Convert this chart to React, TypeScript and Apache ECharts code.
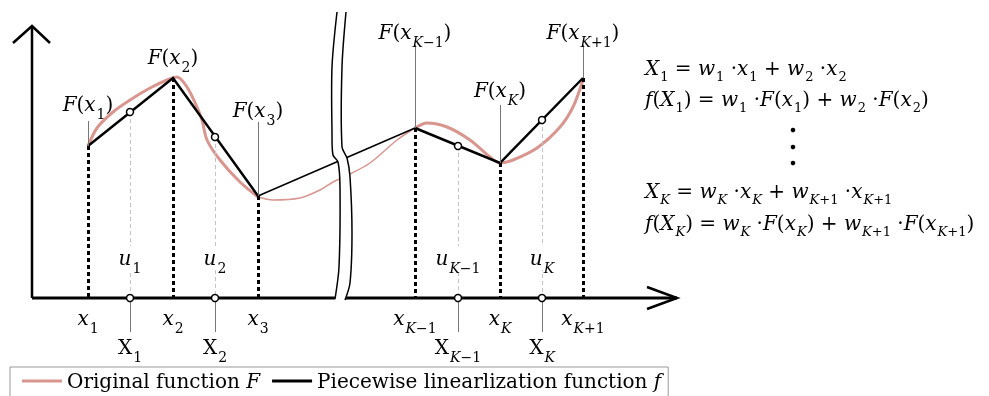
import React, { useEffect, useRef } from 'react';
import * as echarts from 'echarts';

// ---- data (units: origin at the axes' intersection, y upward) ----
const knotX = [56, 141, 226, 383, 468, 551];
const knotF = [152, 220, 102, 170, 135, 220];
const knotSub = ['1', '2', '3', 'K−1', 'K', 'K+1'];
const midX = [98, 183, 426, 510];
const midF = [186, 161, 152, 178];
const midSub = ['1', '2', 'K−1', 'K'];
const curveLeft = [[56, 152], [65, 170], [81, 186], [98, 198], [118, 210], [135, 218], [145, 221], [155, 211], [165, 191], [170, 178], [175, 158], [188, 138], [208, 116], [226, 101]];
const curveMid = [[226, 101], [241, 98], [268, 100], [288, 108], [301, 116], [316, 123], [338, 135], [365, 158], [383, 170]];
const curveRight = [[383, 170], [395, 175], [415, 171], [438, 158], [458, 141], [468, 135], [481, 138], [505, 150], [528, 171], [541, 191], [551, 218]];
const fLabelY = [194, 241, 188, 266, 208, 266];
const fConnTop = [177, null, 176, 253, 193, 253];
const uLabelY = 40;
const xLabelY = -20;
const bigXLabelY = -49;
const bigXConnBottom = -34;
const yAxisLine = [[0, 0], [0, 272]];
const yArrow = [[-19, 255], [0, 272], [18, 255]];
const xAxisLine = [[0, 0], [645, 0]];
const xArrow = [[615, 11], [645, 0], [615, -11]];
const breakLeft = [[305, 286], [300, 231], [300, 165], [301, 143], [306, 136], [308, 111], [307, 31], [303, -1]];
const breakRight = [[314, 286], [310, 231], [310, 151], [315, 140], [318, 121], [320, 65], [318, 15], [313, -2]];

const NAME_F = 'Original function F';
const NAME_f = 'Piecewise linearlization function f';
const PINK = '#d9968f';
const FONT = 'DejaVu Serif';
const MAIN = 20;
const SUB = 14;
const SUBPAD = 20;
const LH = 24;

const makeRich = (sub: number, pad: number) => ({
  i: { fontFamily: FONT, fontSize: MAIN, fontStyle: 'italic', color: '#000', lineHeight: LH },
  r: { fontFamily: FONT, fontSize: MAIN, color: '#000', lineHeight: LH },
  s1: { fontFamily: FONT, fontSize: sub, color: '#000', padding: [pad, 0, 0, 1], lineHeight: LH },
  s: { fontFamily: FONT, fontSize: sub, color: '#000', padding: [pad, 0, 0, 0], lineHeight: LH },
  sk: { fontFamily: FONT, fontSize: sub, fontStyle: 'italic', color: '#000', padding: [pad, 0, 0, 1], lineHeight: LH },
});
const richL = makeRich(SUB, SUBPAD);
const richG: any = {};
const richF = makeRich(13, 16);
Object.keys(richF).forEach((k) => {
  const { color, ...rest } = (richF as any)[k];
  richG[k] = { ...rest, fill: color };
});

const subTok = (s: string) =>
  s.startsWith('K') ? '{sk|K}' + (s.length > 1 ? '{s|' + s.slice(1) + '}' : '') : '{s1|' + s + '}';

const fTexts = knotSub.map((s) => '{i|F}{r|(}{i|x}' + subTok(s) + '{r|)}');
const xTexts = knotSub.map((s) => '{i|x}' + subTok(s));
const uTexts = midSub.map((s) => '{i|u}' + subTok(s));
const bigXTexts = midSub.map((s) => '{r|X}' + subTok(s));

const formulas = [
  '{i|X}{s1|1}{r| = }{i|w}{s1|1}{r| ·}{i|x}{s1|1}{r| + }{i|w}{s1|2}{r| ·}{i|x}{s1|2}',
  '{i|f}{r|(}{i|X}{s1|1}{r|) = }{i|w}{s1|1}{r| ·}{i|F}{r|(}{i|x}{s1|1}{r|) + }{i|w}{s1|2}{r| ·}{i|F}{r|(}{i|x}{s1|2}{r|)}',
  '{i|X}{sk|K}{r| = }{i|w}{sk|K}{r| ·}{i|x}{sk|K}{r| + }{i|w}{sk|K}{s|+1}{r| ·}{i|x}{sk|K}{s|+1}',
  '{i|f}{r|(}{i|X}{sk|K}{r|) = }{i|w}{sk|K}{r| ·}{i|F}{r|(}{i|x}{sk|K}{r|) + }{i|w}{sk|K}{s|+1}{r| ·}{i|F}{r|(}{i|x}{sk|K}{s|+1}{r|)}',
];
const formulaY = [68, 99, 191, 223];
const dotsY = [130, 147, 163];

const pts = (a: number, b: number) => knotX.slice(a, b).map((x, i) => [x, knotF[a + i]]);

const labelSeries = (data: number[][], texts: string[], extra: any = {}) => ({
  type: 'scatter',
  symbolSize: 0,
  itemStyle: { color: '#000', opacity: 1 },
  z: 20,
  silent: true,
  data: data.map((v) => ({ value: v })),
  label: {
    show: true,
    position: 'inside',
    color: '#000',
    formatter: (p: any) => texts[p.dataIndex],
    rich: richL,
    ...extra,
  },
});

const plainLine = (data: number[][], width: number, color = '#000', extra: any = {}) => ({
  type: 'line',
  data,
  symbol: 'none',
  silent: true,
  lineStyle: { color, width, cap: 'butt', join: 'miter' },
  itemStyle: { color },
  ...extra,
});

export default function App() {
  const ref = useRef<HTMLDivElement>(null);
  useEffect(() => {
    const chart = echarts.init(ref.current!, null, { renderer: 'svg' });
    const option: any = {
      animation: false,
      grid: { left: 0, right: 0, top: 0, bottom: 0 },
      xAxis: { type: 'value', min: -32, max: 957, show: false },
      yAxis: { type: 'value', min: -98, max: 298, show: false },
      legend: {
        left: 10,
        top: 367,
        padding: [4, 7, 12, 12],
        itemGap: 12,
        itemWidth: 40,
        itemHeight: 3,
        icon: 'rect',
        borderColor: '#999',
        borderWidth: 1,
        borderRadius: 0,
        data: [NAME_F, NAME_f],
        formatter: (n: string) => n.slice(0, -1) + '{it|' + n.slice(-1) + '}',
        textStyle: {
          fontFamily: FONT,
          fontSize: 20,
          color: '#000',
          rich: { it: { fontFamily: FONT, fontSize: 20, fontStyle: 'italic', color: '#000' } },
        },
      },
      series: [
        // axes
        plainLine(yAxisLine, 2.5),
        plainLine(yArrow, 2.5),
        plainLine(xAxisLine, 3),
        plainLine(xArrow, 2.5),
        // original function F
        plainLine(curveLeft, 3, PINK, { name: NAME_F, smooth: 0.3 }),
        plainLine(curveMid, 1.5, PINK, { name: NAME_F, smooth: 0.3 }),
        plainLine(curveRight, 3, PINK, { name: NAME_F, smooth: 0.3 }),
        // piecewise linearization f
        plainLine(pts(0, 3), 2.5, '#000', {
          name: NAME_f,
          z: 3,
          markLine: {
            silent: true,
            symbol: ['none', 'none'],
            label: { show: false },
            lineStyle: { color: '#000', width: 3, type: [4, 3] },
            data: knotX.map((x, i) => [{ coord: [x, knotF[i]] }, { coord: [x, 0] }]),
          },
        }),
        plainLine(pts(2, 4), 1.5, '#000', {
          name: NAME_f,
          z: 3,
          markLine: {
            silent: true,
            symbol: ['none', 'none'],
            label: { show: false },
            lineStyle: { color: '#c4c4c4', width: 1, type: [4, 3] },
            data: midX.map((x, i) => [{ coord: [x, midF[i]] }, { coord: [x, 0] }]),
          },
        }),
        plainLine(pts(3, 6), 2.5, '#000', {
          name: NAME_f,
          z: 3,
          markLine: {
            silent: true,
            symbol: ['none', 'none'],
            label: { show: false },
            lineStyle: { color: '#777', width: 1, type: 'solid' },
            data: [
              ...knotX
                .map((x, i) => (fConnTop[i] == null ? null : [{ coord: [x, knotF[i]] }, { coord: [x, fConnTop[i]] }]))
                .filter(Boolean),
              ...midX.map((x) => [{ coord: [x, 0] }, { coord: [x, bigXConnBottom] }]),
            ],
          },
        }),
        // circles
        {
          type: 'scatter',
          silent: true,
          z: 6,
          symbol: 'circle',
          symbolSize: 7,
          itemStyle: { color: '#fff', borderColor: '#000', borderWidth: 1.5, opacity: 1 },
          data: [...midX.map((x, i) => [x, midF[i]]), ...midX.map((x) => [x, 0])],
        },
        // labels
        labelSeries(knotX.map((x, i) => [x, fLabelY[i]]), fTexts),
        labelSeries(knotX.map((x) => [x, xLabelY]), xTexts),
        labelSeries(midX.map((x) => [x, uLabelY]), uTexts, { backgroundColor: '#fff', padding: [0, 2] }),
        labelSeries(midX.map((x) => [x, bigXLabelY]), bigXTexts),
      ],
    };
    chart.setOption(option);
    const px = (p: number[]) => chart.convertToPixel({ xAxisIndex: 0, yAxisIndex: 0 }, p) as number[];
    const L = breakLeft.map(px);
    const R = breakRight.map(px);
    chart.setOption({
      graphic: [
        {
          type: 'polygon',
          z: 50,
          silent: true,
          shape: { points: [...L, ...R.slice().reverse()], smooth: 0.3 },
          style: { fill: '#fff', stroke: null },
        },
        { type: 'polyline', z: 51, silent: true, shape: { points: L, smooth: 0.3 }, style: { stroke: '#000', lineWidth: 1.5, fill: null } },
        { type: 'polyline', z: 51, silent: true, shape: { points: R, smooth: 0.3 }, style: { stroke: '#000', lineWidth: 1.5, fill: null } },
        ...formulas.map((t, i) => ({
          type: 'text',
          x: 645,
          y: formulaY[i],
          z: 60,
          silent: true,
          style: { text: t, rich: richG, fontFamily: FONT, fontSize: MAIN, fill: '#000', verticalAlign: 'middle' },
        })),
        ...dotsY.map((y) => ({
          type: 'circle',
          z: 60,
          silent: true,
          shape: { cx: 793, cy: y, r: 2.3 },
          style: { fill: '#000' },
        })),
      ],
    });
    return () => chart.dispose();
  }, []);
  return <div ref={ref} style={{ position: 'fixed', left: 0, top: 0, width: 989, height: 396 }} />;
}
